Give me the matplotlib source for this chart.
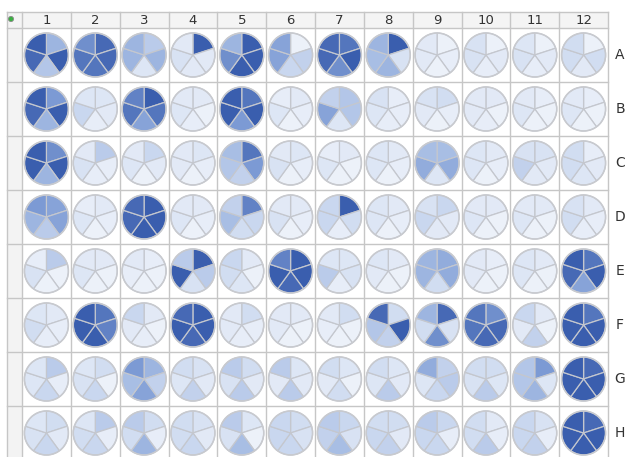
import matplotlib.pyplot as plt
from matplotlib.patches import Wedge, Circle, Rectangle
from matplotlib.colors import LinearSegmentedColormap

# well plate layout
row_labels = ["A", "B", "C", "D", "E", "F", "G", "H"]
col_labels = [str(c) for c in range(1, 13)]

# each well: 5 slices, clockwise from 12 o'clock (top-right, right, bottom, left, top-left)
# values are relative intensity 0..1
row_A = [
    [0.6, 1.0, 0.5, 0.95, 1.0],
    [0.95, 0.95, 0.9, 0.9, 0.8],
    [0.45, 0.6, 0.2, 0.6, 0.6],
    [1.0, 0.15, 0.15, 0.25, 0.15],
    [1.0, 1.0, 1.0, 0.8, 0.6],
    [0.05, 0.4, 0.35, 0.7, 0.7],
    [0.9, 1.0, 0.8, 0.95, 0.95],
    [1.0, 0.25, 0.6, 0.55, 0.6],
    [0.05, 0.1, 0.05, 0.15, 0.15],
    [0.05, 0.15, 0.1, 0.25, 0.25],
    [0.05, 0.15, 0.1, 0.25, 0.2],
    [0.05, 0.3, 0.15, 0.3, 0.3],
]
row_B = [
    [0.75, 1.0, 0.6, 0.95, 1.0],
    [0.2, 0.15, 0.1, 0.35, 0.2],
    [1.0, 0.9, 0.7, 0.9, 0.85],
    [0.15, 0.05, 0.1, 0.2, 0.15],
    [0.9, 1.0, 0.75, 1.0, 1.0],
    [0.15, 0.1, 0.05, 0.2, 0.1],
    [0.5, 0.5, 0.2, 0.7, 0.4],
    [0.1, 0.1, 0.1, 0.2, 0.25],
    [0.3, 0.1, 0.05, 0.15, 0.25],
    [0.15, 0.05, 0.1, 0.15, 0.15],
    [0.1, 0.05, 0.05, 0.2, 0.15],
    [0.1, 0.05, 0.05, 0.2, 0.15],
]
row_C = [
    [0.8, 1.0, 0.6, 1.0, 1.0],
    [0.45, 0.1, 0.1, 0.25, 0.15],
    [0.35, 0.15, 0.05, 0.2, 0.15],
    [0.2, 0.1, 0.05, 0.15, 0.15],
    [0.9, 0.75, 0.4, 0.5, 0.55],
    [0.2, 0.1, 0.05, 0.25, 0.15],
    [0.15, 0.05, 0.05, 0.2, 0.1],
    [0.15, 0.1, 0.05, 0.2, 0.2],
    [0.55, 0.65, 0.2, 0.65, 0.55],
    [0.15, 0.1, 0.05, 0.2, 0.2],
    [0.25, 0.15, 0.15, 0.4, 0.25],
    [0.1, 0.15, 0.2, 0.3, 0.3],
]
row_D = [
    [0.7, 0.7, 0.45, 0.6, 0.75],
    [0.15, 0.1, 0.05, 0.2, 0.1],
    [1.0, 1.0, 1.0, 0.95, 0.95],
    [0.15, 0.1, 0.05, 0.2, 0.15],
    [0.85, 0.35, 0.3, 0.55, 0.4],
    [0.15, 0.1, 0.05, 0.25, 0.15],
    [1.0, 0.3, 0.1, 0.35, 0.35],
    [0.15, 0.1, 0.05, 0.2, 0.2],
    [0.35, 0.15, 0.15, 0.35, 0.25],
    [0.15, 0.05, 0.05, 0.2, 0.15],
    [0.15, 0.05, 0.05, 0.2, 0.15],
    [0.15, 0.1, 0.1, 0.3, 0.25],
]
row_E = [
    [0.45, 0.05, 0.05, 0.25, 0.1],
    [0.15, 0.05, 0.05, 0.2, 0.15],
    [0.1, 0.05, 0.05, 0.1, 0.15],
    [1.0, 0.45, 0.25, 1.0, 0.45],
    [0.15, 0.05, 0.2, 0.3, 0.35],
    [1.0, 1.0, 0.95, 1.0, 0.85],
    [0.2, 0.25, 0.1, 0.45, 0.2],
    [0.15, 0.05, 0.05, 0.15, 0.2],
    [0.65, 0.65, 0.3, 0.6, 0.6],
    [0.1, 0.05, 0.05, 0.15, 0.15],
    [0.15, 0.05, 0.05, 0.2, 0.2],
    [0.9, 1.0, 0.7, 0.95, 1.0],
]
row_F = [
    [0.15, 0.1, 0.1, 0.3, 0.2],
    [0.9, 0.85, 1.0, 1.0, 1.0],
    [0.15, 0.05, 0.1, 0.15, 0.35],
    [1.0, 1.0, 0.95, 1.0, 0.95],
    [0.3, 0.1, 0.1, 0.15, 0.15],
    [0.15, 0.05, 0.05, 0.15, 0.15],
    [0.3, 0.05, 0.05, 0.1, 0.15],
    [0.3, 1.0, 0.4, 0.5, 0.95],
    [0.95, 0.25, 0.8, 0.3, 0.6],
    [0.8, 0.95, 0.95, 0.9, 0.9],
    [0.15, 0.05, 0.4, 0.15, 0.35],
    [0.9, 1.0, 1.0, 1.0, 1.0],
]
row_G = [
    [0.45, 0.1, 0.35, 0.2, 0.2],
    [0.3, 0.05, 0.35, 0.25, 0.2],
    [0.6, 0.4, 0.7, 0.55, 0.75],
    [0.25, 0.15, 0.4, 0.2, 0.3],
    [0.3, 0.15, 0.45, 0.25, 0.45],
    [0.2, 0.15, 0.45, 0.15, 0.45],
    [0.2, 0.05, 0.3, 0.15, 0.3],
    [0.2, 0.15, 0.45, 0.2, 0.3],
    [0.4, 0.45, 0.35, 0.2, 0.65],
    [0.3, 0.2, 0.45, 0.25, 0.3],
    [0.75, 0.2, 0.6, 0.5, 0.5],
    [0.95, 1.0, 1.0, 1.0, 1.0],
]
row_H = [
    [0.3, 0.15, 0.35, 0.25, 0.2],
    [0.45, 0.1, 0.35, 0.3, 0.2],
    [0.3, 0.1, 0.6, 0.3, 0.45],
    [0.25, 0.15, 0.35, 0.3, 0.3],
    [0.2, 0.05, 0.55, 0.25, 0.45],
    [0.3, 0.25, 0.35, 0.35, 0.35],
    [0.35, 0.25, 0.55, 0.4, 0.45],
    [0.3, 0.15, 0.4, 0.35, 0.3],
    [0.35, 0.1, 0.35, 0.35, 0.45],
    [0.15, 0.1, 0.45, 0.3, 0.3],
    [0.25, 0.1, 0.4, 0.35, 0.35],
    [0.95, 1.0, 1.0, 1.0, 1.0],
]
plate = [row_A, row_B, row_C, row_D, row_E, row_F, row_G, row_H]

cmap = LinearSegmentedColormap.from_list(
    "wells",
    [(0.0, "#f1f4fb"), (0.25, "#d8e2f3"), (0.5, "#b3c6e8"),
     (0.75, "#7d9bd4"), (1.0, "#3a5eae")],
)

W, H = 625, 457
fig = plt.figure(figsize=(W / 100, H / 100), dpi=100)
ax = fig.add_axes([0, 0, 1, 1])
ax.set_xlim(0, W)
ax.set_ylim(0, H)
ax.axis("off")

# grid geometry in pixels (y measured from top, flipped below)
x0, x1 = 22, 608
left = 7
top = 12
head_bot = 28
col_w = (x1 - x0) / 12
row_h = 54
grid_col = "#c6c6c6"

def fy(y):
    return H - y

# header strip and row-header column
ax.add_patch(Rectangle((left, fy(head_bot)), x1 - left, head_bot - top,
                       facecolor="#f4f4f4", edgecolor="none", zorder=0))
ax.add_patch(Rectangle((left, 0), x0 - left, fy(head_bot),
                       facecolor="#f3f3f3", edgecolor="none", zorder=0))

# grid lines
ax.plot([left, x1], [fy(top), fy(top)], color=grid_col, lw=1)
ax.plot([left, x1], [fy(head_bot), fy(head_bot)], color=grid_col, lw=1)
for i in range(1, 9):
    y = head_bot + i * row_h
    ax.plot([left, x1], [fy(y), fy(y)], color=grid_col, lw=1)
ax.plot([left, left], [0, fy(top)], color=grid_col, lw=1)
for j in range(13):
    x = x0 + j * col_w
    ax.plot([x, x], [0, fy(top)], color=grid_col, lw=1)

# corner icon
ax.add_patch(Circle((11, fy(19)), 2.6, facecolor="#3cb043",
                    edgecolor="#8a8a8a", lw=0.6, zorder=3))

# labels
for j, lab in enumerate(col_labels):
    ax.text(x0 + (j + 0.5) * col_w, fy(20), lab, ha="center", va="center",
            fontsize=9.5, color="#333333")
for i, lab in enumerate(row_labels):
    ax.text(620, fy(head_bot + (i + 0.5) * row_h), lab, ha="center",
            va="center", fontsize=10, color="#333333")

# pies
r = 22
for i, row in enumerate(plate):
    cy = fy(head_bot + (i + 0.5) * row_h)
    for j, well in enumerate(row):
        cx = x0 + (j + 0.5) * col_w
        for k, v in enumerate(well):
            t2 = 90 - 72 * k
            t1 = t2 - 72
            ax.add_patch(Wedge((cx, cy), r, t1, t2, facecolor=cmap(v),
                               edgecolor="#c4c7ce", lw=0.9, zorder=2))
        ax.add_patch(Circle((cx, cy), r, facecolor="none",
                            edgecolor="#c8cacf", lw=1.1, zorder=2))

fig.savefig("out.png", dpi=100)
